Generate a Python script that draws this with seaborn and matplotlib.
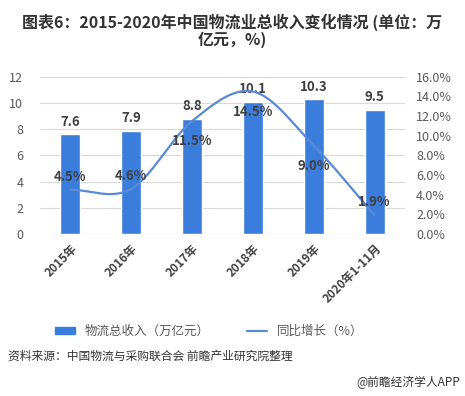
import numpy as np
import pandas as pd
import matplotlib
matplotlib.use("Agg")
import matplotlib.pyplot as plt
import seaborn as sns
from matplotlib.lines import Line2D
from matplotlib.patches import Patch

years = ["2015年", "2016年", "2017年", "2018年", "2019年", "2020年1-11月"]
revenue = [7.6, 7.9, 8.8, 10.1, 10.3, 9.5]
growth = [4.5, 4.6, 11.5, 14.5, 9.0, 1.9]
# label offsets (points) for the growth labels, as placed in the original
growth_label_dy = [9.5, 9.5, -14.5, -14.5, -15, 9.5]

sns.set_theme(style="white")
plt.rcParams["font.family"] = ["Noto Sans CJK SC", "DejaVu Sans"]

BAR_COLOR = "#3B7DDD"
LINE_COLOR = "#5A8AD6"
TEXT_COLOR = "#404040"
TICK_COLOR = "#595959"

df = pd.DataFrame({"year": years, "revenue": revenue, "growth": growth})

fig = plt.figure(figsize=(4.65, 3.96), dpi=100)
ax = fig.add_axes([0.086, 0.409, 0.785, 0.397])

sns.barplot(data=df, x="year", y="revenue", color=BAR_COLOR, width=0.33,
            saturation=1, ax=ax, zorder=2)
ax.set_ylim(0, 12)
ax.set_yticks(range(0, 13, 2))
ax.set_xlim(-0.5, len(years) - 0.5)
ax.yaxis.grid(True, color="#D9D9D9", linewidth=0.8, zorder=0)
ax.set_axisbelow(True)
for s in ax.spines.values():
    s.set_visible(False)
ax.set_xlabel("")
ax.set_ylabel("")
ax.tick_params(axis="y", labelsize=9, colors=TICK_COLOR, length=0, pad=12)
ax.tick_params(axis="x", length=0, pad=6)
ax.set_xticks(range(len(years)))
ax.set_xticklabels(years, rotation=45, ha="right", rotation_mode="anchor",
                   fontsize=8.5, color=TEXT_COLOR, fontweight="bold")

for i, v in enumerate(revenue):
    ax.annotate(f"{v}", (i, v), xytext=(0, 4), textcoords="offset points",
                ha="center", va="bottom", fontsize=9.5, color=TEXT_COLOR,
                fontweight="bold")

# smoothed growth line (Catmull-Rom through the data points)
ax2 = ax.twinx()
ax2.set_ylim(0, 16)
ax2.set_yticks(np.arange(0, 17, 2))
ax2.set_yticklabels([f"{t:.1f}%" for t in np.arange(0, 17, 2)])
ax2.tick_params(axis="y", labelsize=9, colors=TICK_COLOR, length=0, pad=8)
for s in ax2.spines.values():
    s.set_visible(False)

xs = np.arange(len(growth), dtype=float)
ys = np.array(growth, dtype=float)
px = np.concatenate([[2 * xs[0] - xs[1]], xs, [2 * xs[-1] - xs[-2]]])
py = np.concatenate([[2 * ys[0] - ys[1]], ys, [2 * ys[-1] - ys[-2]]])
cx, cy = [], []
for k in range(1, len(px) - 2):
    t = np.linspace(0, 1, 30)
    p0, p1, p2, p3 = px[k - 1], px[k], px[k + 1], px[k + 2]
    q0, q1, q2, q3 = py[k - 1], py[k], py[k + 1], py[k + 2]
    cx.append(0.5 * (2 * p1 + (-p0 + p2) * t + (2 * p0 - 5 * p1 + 4 * p2 - p3) * t**2
                     + (-p0 + 3 * p1 - 3 * p2 + p3) * t**3))
    cy.append(0.5 * (2 * q1 + (-q0 + q2) * t + (2 * q0 - 5 * q1 + 4 * q2 - q3) * t**2
                     + (-q0 + 3 * q1 - 3 * q2 + q3) * t**3))
sns.lineplot(x=np.concatenate(cx), y=np.concatenate(cy), color=LINE_COLOR,
             linewidth=1.6, ax=ax2, sort=False, estimator=None)
ax2.set_ylabel("")

for i, (g, dy) in enumerate(zip(growth, growth_label_dy)):
    ax2.annotate(f"{g:.1f}%", (i, g), xytext=(0, dy), textcoords="offset points",
                 ha="center", va="center", fontsize=9.5, color=TEXT_COLOR,
                 fontweight="bold")

handles = [Patch(color=BAR_COLOR, label="物流总收入（万亿元）"),
           Line2D([0], [0], color=LINE_COLOR, linewidth=1.6, label="同比增长（%）")]
fig.legend(handles=handles, loc="center", bbox_to_anchor=(0.45, 0.163), ncol=2,
           frameon=False, fontsize=9, handlelength=1.6, handleheight=0.5,
           columnspacing=3, labelcolor=TICK_COLOR)

fig.text(0.5, 0.965, "图表6：2015-2020年中国物流业总收入变化情况 (单位：万\n亿元，%)",
         ha="center", va="top", fontsize=11.5, fontweight="bold", color="#333333",
         linespacing=1.0)
fig.text(0.017, 0.1, "资料来源：中国物流与采购联合会 前瞻产业研究院整理",
         ha="left", va="center", fontsize=8.5, color="#333333")
fig.text(0.99, 0.035, "@前瞻经济学人APP", ha="right", va="center",
         fontsize=8.5, color="#333333")

fig.savefig("out.png", dpi=100)
